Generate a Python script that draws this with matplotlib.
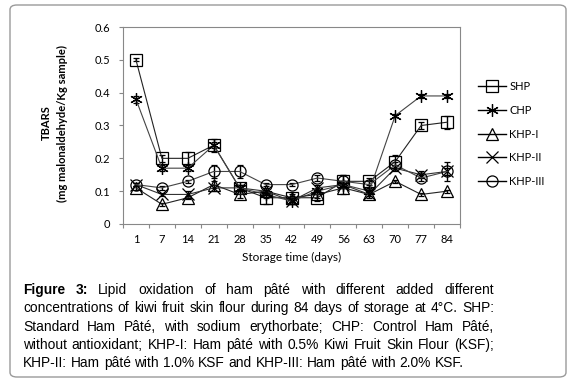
import matplotlib
matplotlib.use("Agg")
import matplotlib.pyplot as plt
from matplotlib.patches import FancyBboxPatch
from matplotlib.lines import Line2D
import numpy as np

days = ["1", "7", "14", "21", "28", "35", "42", "49", "56", "63", "70", "77", "84"]
shp = [0.50, 0.20, 0.20, 0.24, 0.11, 0.08, 0.08, 0.08, 0.13, 0.13, 0.19, 0.30, 0.31]
chp = [0.38, 0.17, 0.17, 0.24, 0.11, 0.09, 0.07, 0.10, 0.12, 0.10, 0.33, 0.39, 0.39]
khp1 = [0.11, 0.06, 0.08, 0.12, 0.09, 0.10, 0.08, 0.09, 0.11, 0.09, 0.13, 0.09, 0.10]
khp2 = [0.12, 0.09, 0.09, 0.11, 0.11, 0.10, 0.07, 0.11, 0.12, 0.09, 0.17, 0.15, 0.16]
khp3 = [0.12, 0.11, 0.13, 0.16, 0.16, 0.12, 0.12, 0.14, 0.13, 0.12, 0.18, 0.14, 0.16]
shp_err = [0.005, 0.01, 0.02, 0.01, 0.01, 0.02, 0.01, 0.01, 0.02, 0.01, 0.02, 0.01, 0.02]
chp_err = [0.01, 0.01, 0.01, 0.02, 0.01, 0.01, 0.01, 0.01, 0.01, 0.01, 0.005, 0.005, 0.005]
khp1_err = [0.005, 0.005, 0.005, 0.01, 0.01, 0.01, 0.005, 0.01, 0.02, 0.005, 0.005, 0.005, 0.005]
khp2_err = [0.005, 0.005, 0.01, 0.01, 0.01, 0.01, 0.01, 0.01, 0.01, 0.01, 0.01, 0.01, 0.01]
khp3_err = [0.005, 0.005, 0.005, 0.02, 0.02, 0.005, 0.005, 0.01, 0.02, 0.01, 0.01, 0.01, 0.03]
series_names = ["SHP", "CHP", "KHP-I", "KHP-II", "KHP-III"]
yticks = [0, 0.1, 0.2, 0.3, 0.4, 0.5, 0.6]

W, H = 582, 391
fig = plt.figure(figsize=(W / 100, H / 100), dpi=100)
fig.patch.set_facecolor("white")

# rounded frame
frame = FancyBboxPatch((10 / W, 14 / H), 556 / W, 372 / H,
                       boxstyle="round,pad=0,rounding_size=0.012",
                       transform=fig.transFigure, fill=False,
                       edgecolor="#9a9a9a", linewidth=1.0)
fig.patches.append(frame)

ax = fig.add_axes([123 / W, 1 - 224 / H, 337 / W, 197 / H])
x = np.arange(len(days)) + 0.5
data = [shp, chp, khp1, khp2, khp3]
errs = [shp_err, chp_err, khp1_err, khp2_err, khp3_err]
markers = ["s", (6, 2, 0), "^", "x", "o"]
msizes = [8, 9, 8, 9, 8]
colors = ["#222222", "#444444", "#222222", "#333333", "#444444"]
handles = []
for name, y, e, m, ms, c in zip(series_names, data, errs, markers, msizes, colors):
    ax.errorbar(x, y, yerr=e, color=c, linewidth=0.8, marker=m, markersize=ms,
                markerfacecolor="none", markeredgecolor="black", markeredgewidth=0.9,
                ecolor="black", elinewidth=1.0, capsize=2.5, capthick=1.0)
    handles.append(Line2D([], [], color="black", linewidth=1.0, marker=m, markersize=ms,
                          markerfacecolor="none", markeredgecolor="black",
                          markeredgewidth=0.9, label=name))

ax.set_xlim(0, len(days))
ax.set_ylim(0, 0.6)
ax.set_xticks(np.arange(len(days) + 1))
ax.set_xticklabels([])
ax.set_xticks(x, minor=True)
ax.set_xticklabels(days, minor=True)
ax.tick_params(axis="x", which="minor", length=0, pad=7, labelsize=8)
ax.tick_params(axis="x", which="major", direction="out", length=3, color="#888888")
ax.set_yticks(yticks)
ax.set_yticklabels(["0", "0.1", "0.2", "0.3", "0.4", "0.5", "0.6"])
ax.tick_params(axis="y", direction="out", length=3, color="#888888", labelsize=8, pad=6)
for s in ax.spines.values():
    s.set_color("#888888")
    s.set_linewidth(0.8)
for lab in ax.get_xticklabels(minor=True) + ax.get_yticklabels():
    lab.set_fontfamily("Lato")

ax.set_xlabel("Storage time (days)", fontfamily="Lato", fontsize=8.5, labelpad=5)
fig.text(46 / W, 1 - 123 / H, "TBARS", rotation=90, ha="center", va="center",
         fontfamily="Lato", fontweight="bold", fontsize=8)
fig.text(62 / W, 1 - 123 / H, "(mg malonaldehyde/Kg sample)", rotation=90, ha="center",
         va="center", fontfamily="Lato", fontweight="bold", fontsize=8)

leg = ax.legend(handles=handles, loc="upper left", bbox_to_anchor=(468 / W, 1 - 71 / H),
                bbox_transform=fig.transFigure, frameon=False,
                handlelength=2.5, labelspacing=1.15, handletextpad=0.3,
                prop={"family": "Lato", "size": 8})

# caption with justified lines
lines = [
    ("Figure 3:", "Lipid oxidation of ham pâté with different added different"),
    (None, "concentrations of kiwi fruit skin flour during 84 days of storage at 4°C. SHP:"),
    (None, "Standard Ham Pâté, with sodium erythorbate; CHP: Control Ham Pâté,"),
    (None, "without antioxidant; KHP-I: Ham pâté with 0.5% Kiwi Fruit Skin Flour (KSF);"),
    (None, "KHP-II: Ham pâté with 1.0% KSF and KHP-III: Ham pâté with 2.0% KSF."),
]
ys = [290, 308, 327, 345, 363]
xl, xr = 23, 494
fig.canvas.draw()
r = fig.canvas.get_renderer()
fs = 9.9
for i, ((bold, rest), yy) in enumerate(zip(lines, ys)):
    words = []
    if bold:
        words += [(w, "bold") for w in bold.split()]
    words += [(w, "normal") for w in rest.split()]
    texts = []
    for w, wt in words:
        t = fig.text(0, 1 - yy / H, w, fontfamily="Liberation Sans", fontweight=wt,
                     fontsize=fs, va="center", ha="left")
        texts.append(t)
    widths = [t.get_window_extent(r).width for t in texts]
    if i < len(lines) - 1:
        gap = (xr - xl - sum(widths)) / (len(words) - 1)
    else:
        sp = fig.text(0, 0, "a b", fontfamily="Liberation Sans", fontsize=fs)
        sw = sp.get_window_extent(r).width
        sp2 = fig.text(0, 0, "ab", fontfamily="Liberation Sans", fontsize=fs)
        gap = sw - sp2.get_window_extent(r).width
        sp.remove(); sp2.remove()
    cx = xl
    for t, wd in zip(texts, widths):
        t.set_x(cx / W)
        cx += wd + gap

fig.savefig("out.png", dpi=100, facecolor="white")
